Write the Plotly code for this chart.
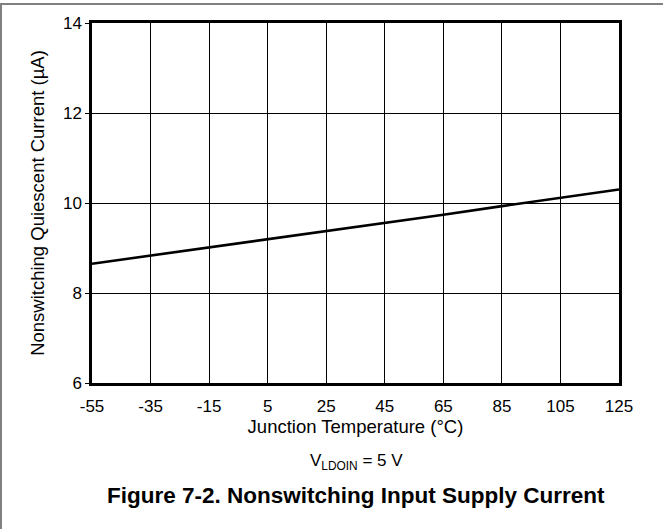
import plotly.graph_objects as go

temps = [-55, -35, -15, 5, 25, 45, 65, 85, 105, 125]
iq = [8.65, 8.83, 9.01, 9.19, 9.37, 9.55, 9.74, 9.93, 10.12, 10.30]
x_ticks = [-55, -35, -15, 5, 25, 45, 65, 85, 105, 125]
x_tick_labels = ["-55", "-35", "-15", "5", "25", "45", "65", "85", "105", "125"]
y_ticks = [6, 8, 10, 12, 14]

W, H = 663, 529
L, R, T, B = 92, 44, 23, 146
pw, ph = W - L - R, H - T - B

def px(X):
    return (X - L) / pw

def py(Y):
    return (H - B - Y) / ph

fig = go.Figure()
fig.add_trace(go.Scatter(x=temps, y=iq, mode="lines",
                         line=dict(color="black", width=2.6), showlegend=False))

font = dict(family="Liberation Sans, Arial, sans-serif", color="black")
fig.update_layout(
    width=W, height=H,
    margin=dict(l=L, r=R, t=T, b=B, autoexpand=False),
    paper_bgcolor="white", plot_bgcolor="white",
    font=dict(size=17, **font),
    xaxis=dict(range=[-55, 125], tickvals=x_ticks, ticktext=x_tick_labels,
               ticks="outside", ticklen=6, tickcolor="rgba(0,0,0,0)",
               showgrid=True, gridcolor="black", gridwidth=1, showline=True,
               linecolor="black", linewidth=2.5, mirror=True, zeroline=False,
               tickfont=dict(size=17, **font),
               title=dict(text="Junction Temperature (°C)", standoff=2,
                          font=dict(size=18.5, **font))),
    yaxis=dict(range=[6, 14], tickvals=y_ticks, ticks="outside", ticklen=4,
               tickcolor="black", showgrid=True, gridcolor="black", gridwidth=1,
               showline=True, linecolor="black", linewidth=2.5, mirror=True,
               zeroline=False, tickfont=dict(size=17, **font),
               title=dict(text="Nonswitching Quiescent Current (µA)", standoff=14,
                          font=dict(size=18.5, **font))),
    annotations=[
        dict(text="V<sub>LDOIN</sub> = 5 V", xref="paper", yref="paper",
             x=px(356), y=py(462), showarrow=False, xanchor="center", yanchor="middle",
             font=dict(size=17, **font)),
        dict(text="<b>Figure 7-2. Nonswitching Input Supply Current</b>", xref="paper",
             yref="paper", x=px(356), y=py(495), showarrow=False, xanchor="center",
             yanchor="middle", font=dict(size=22.5, **font)),
    ],
    shapes=[
        dict(type="line", xref="paper", yref="paper", x0=px(0), x1=px(663),
             y0=py(4), y1=py(4), line=dict(color="#808080", width=2)),
        dict(type="line", xref="paper", yref="paper", x0=px(1), x1=px(1),
             y0=py(4), y1=py(529), line=dict(color="#808080", width=2)),
    ],
)

fig.write_html("out.html", config={"displayModeBar": False},
               post_script="document.body.style.margin='0';")
